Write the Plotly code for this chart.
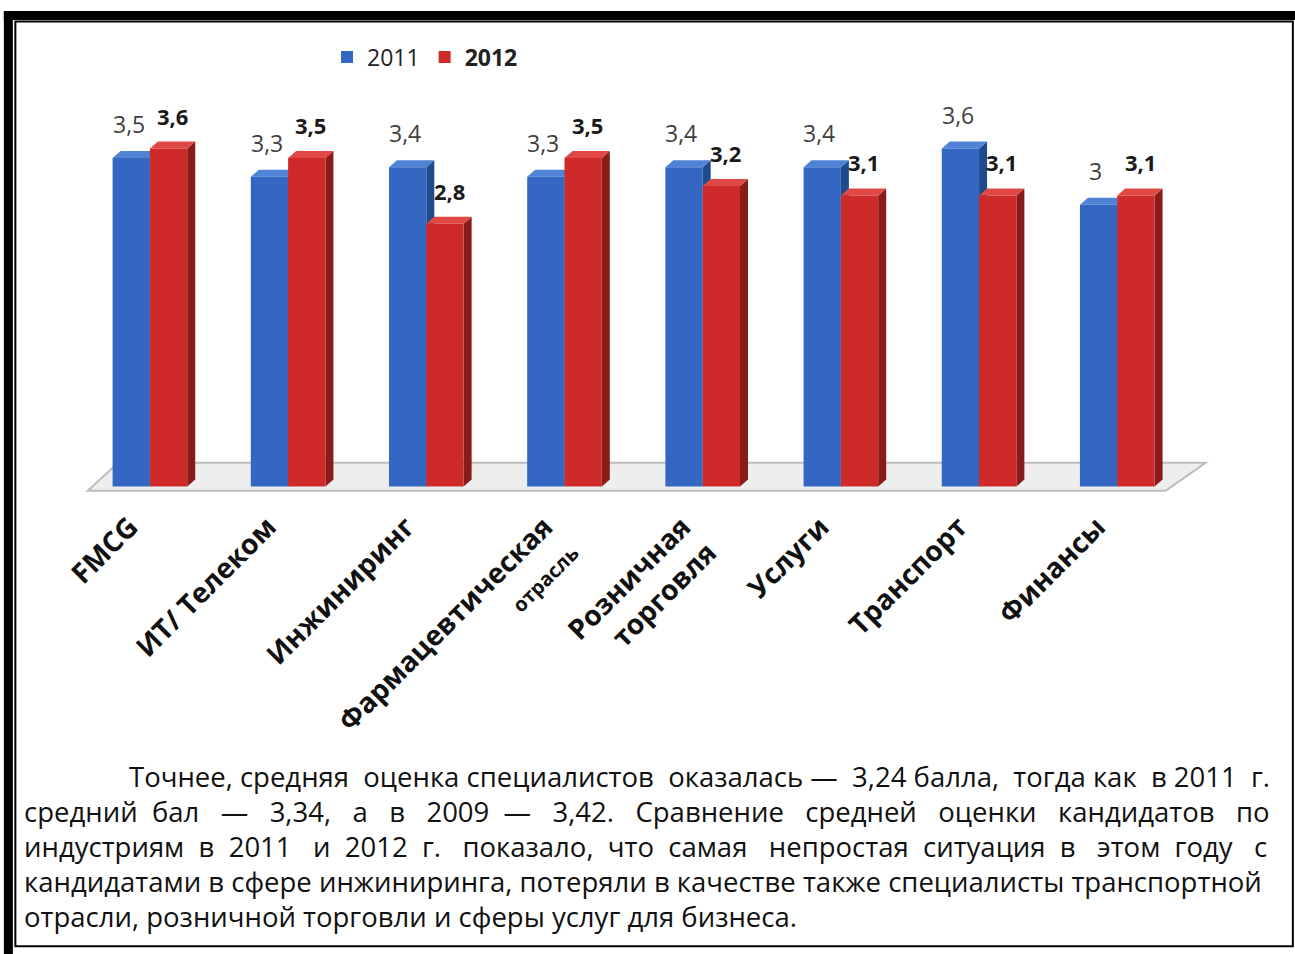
import plotly.graph_objects as go

# ---------------- data ----------------
categories = ["FMCG", "ИТ/ Телеком", "Инжиниринг",
              "Фармацевтическая<br><span style='font-size:20px'>отрасль</span>",
              "Розничная<br>торговля", "Услуги", "Транспорт", "Финансы"]
values_2011 = [3.5, 3.3, 3.4, 3.3, 3.4, 3.4, 3.6, 3.0]
values_2012 = [3.6, 3.5, 2.8, 3.5, 3.2, 3.1, 3.1, 3.1]
series_names = ["2011", "2012"]

paragraph_lines = [
    "Точнее, средняя оценка специалистов оказалась — 3,24 балла, тогда как в 2011 г.",
    "средний бал — 3,34, а в 2009 — 3,42. Сравнение средней оценки кандидатов по",
    "индустриям в 2011 и 2012 г. показало, что самая непростая ситуация в этом году с",
    "кандидатами в сфере инжиниринга, потеряли в качестве также специалисты транспортной",
    "отрасли, розничной торговли и сферы услуг для бизнеса.",
]
# extra non-breaking spaces used to imitate justified text
justify_extra = [6, 24, 19, 0, 0]

# ---------------- layout geometry ----------------
W, H = 1295, 954
CAT_PX = 138.14               # pixels per category
X0_PX = 150.0                 # pixel centre of first category
UNIT_PX = 94.0                # pixels per value unit
Y0_PX = 487.0                 # pixel of value 0
XR = [-0.6, 7.7]
YR = [-0.1, 4.106]
L = X0_PX + XR[0] * CAT_PX
R = W - (X0_PX + XR[1] * CAT_PX)
T = Y0_PX - YR[1] * UNIT_PX
B = H - (Y0_PX - YR[0] * UNIT_PX)
PW, PH = W - L - R, H - T - B


def px2x(px):
    return (px - L) / PW


def py2y(py):
    return 1 - (py - T) / PH


BAR_W = 0.27
DX = 8 / CAT_PX       # 3D depth offset in category units
DY = 7 / UNIT_PX      # 3D depth offset in value units

BLUE, BLUE_TOP, BLUE_SIDE = "#3367c2", "#5083d6", "#1f4a8b"
RED, RED_TOP, RED_SIDE = "#cf2a2a", "#e04846", "#8a1b1b"

idx = list(range(len(categories)))
x_2011 = [i - BAR_W / 2 for i in idx]
x_2012 = [i + BAR_W / 2 for i in idx]

fig = go.Figure()
fig.add_trace(go.Bar(x=x_2011, y=values_2011, width=BAR_W, name=series_names[0],
                     marker=dict(color=BLUE, line=dict(width=0))))
fig.add_trace(go.Bar(x=x_2012, y=values_2012, width=BAR_W,
                     name="<b>" + series_names[1] + "</b>",
                     marker=dict(color=RED, line=dict(width=0))))

shapes = []
# floor
n = len(categories)
fx0, fx1 = -0.45, n - 0.65
fy0, fy1 = -0.045, 0.255
shapes.append(dict(type="path", xref="x", yref="y", layer="below",
                   path=f"M {fx0},{fy0} L {fx1},{fy0} L {fx1 + 0.29},{fy1} L {fx0 + 0.22},{fy1} Z",
                   fillcolor="#eeeeee", line=dict(color="#bdbdbd", width=2)))


def faces(xc, v, top_col, side_col):
    x0, x1 = xc - BAR_W / 2, xc + BAR_W / 2
    side = dict(type="path", xref="x", yref="y", layer="below",
                path=f"M {x1},{0} L {x1},{v} L {x1 + DX},{v + DY} L {x1 + DX},{DY} Z",
                fillcolor=side_col, line=dict(width=0))
    top = dict(type="path", xref="x", yref="y", layer="below",
               path=f"M {x0},{v} L {x1},{v} L {x1 + DX},{v + DY} L {x0 + DX},{v + DY} Z",
               fillcolor=top_col, line=dict(width=0))
    return [side, top]


for xc, v in zip(x_2011, values_2011):
    shapes += faces(xc, v, BLUE_TOP, BLUE_SIDE)
for xc, v in zip(x_2012, values_2012):
    shapes += faces(xc, v, RED_TOP, RED_SIDE)

# page frame (thick L + thin rectangle)
shapes.append(dict(type="rect", xref="paper", yref="paper", layer="above",
                   x0=px2x(4), x1=px2x(1300), y0=py2y(11), y1=py2y(20),
                   fillcolor="black", line=dict(width=0)))
shapes.append(dict(type="rect", xref="paper", yref="paper", layer="above",
                   x0=px2x(4), x1=px2x(13), y0=py2y(11), y1=py2y(960),
                   fillcolor="black", line=dict(width=0)))
shapes.append(dict(type="rect", xref="paper", yref="paper", layer="above",
                   x0=px2x(15.5), x1=px2x(1292.5), y0=py2y(21.5), y1=py2y(947),
                   fillcolor="rgba(0,0,0,0)", line=dict(color="black", width=2)))

annotations = []


def fmt(v):
    return f"{v:g}".replace(".", ",")


for xc, v in zip(x_2011, values_2011):
    annotations.append(dict(x=xc - 0.02, y=v, xref="x", yref="y", text=fmt(v),
                            showarrow=False, yanchor="bottom", yshift=16,
                            font=dict(family="Open Sans", size=23, color="#404040")))
for xc, v in zip(x_2012, values_2012):
    annotations.append(dict(x=xc + 0.03, y=v, xref="x", yref="y", text="<b>" + fmt(v) + "</b>",
                            showarrow=False, yanchor="bottom", yshift=16,
                            font=dict(family="Open Sans", size=22, color="#1a1a1a")))


def justify(line, extra):
    words = line.split(" ")
    gaps = len(words) - 1
    out = words[0]
    for k in range(gaps):
        add = (extra * (k + 1)) // gaps - (extra * k) // gaps
        out += " " + "\u00a0" * add + words[k + 1]
    return out


line_y = [777, 812, 847, 882, 917]
line_x = [127, 22, 22, 22, 22]
for txt, ex, yy, xx in zip(paragraph_lines, justify_extra, line_y, line_x):
    annotations.append(dict(x=px2x(xx), y=py2y(yy), xref="paper", yref="paper",
                            text=justify(txt, ex), showarrow=False, xanchor="left",
                            yanchor="middle",
                            font=dict(family="Open Sans", size=27.5, color="#111111")))

fig.update_layout(
    width=W, height=H,
    margin=dict(l=L, r=R, t=T, b=B, autoexpand=False),
    paper_bgcolor="white", plot_bgcolor="rgba(0,0,0,0)",
    barmode="overlay",
    showlegend=True,
    legend=dict(orientation="h", x=px2x(425), y=py2y(57), xanchor="center", yanchor="middle",
                font=dict(family="Open Sans", size=23, color="#222222"),
                bgcolor="rgba(0,0,0,0)", itemwidth=30, traceorder="normal"),
    xaxis=dict(range=XR, tickmode="array", tickvals=idx, ticktext=categories,
               tickangle=-45, showgrid=False, zeroline=False, showline=False,
               ticks="", ticklabelstandoff=8, ticklabelshift=-20,
               tickfont=dict(family="Open Sans", size=28, color="#111111", weight="bold")),
    yaxis=dict(range=YR, visible=False),
    shapes=shapes,
    annotations=annotations,
)

fig.write_html("out.html", config={"displayModeBar": False},
               post_script="document.body.style.margin='0px';document.body.style.overflow='hidden';")
